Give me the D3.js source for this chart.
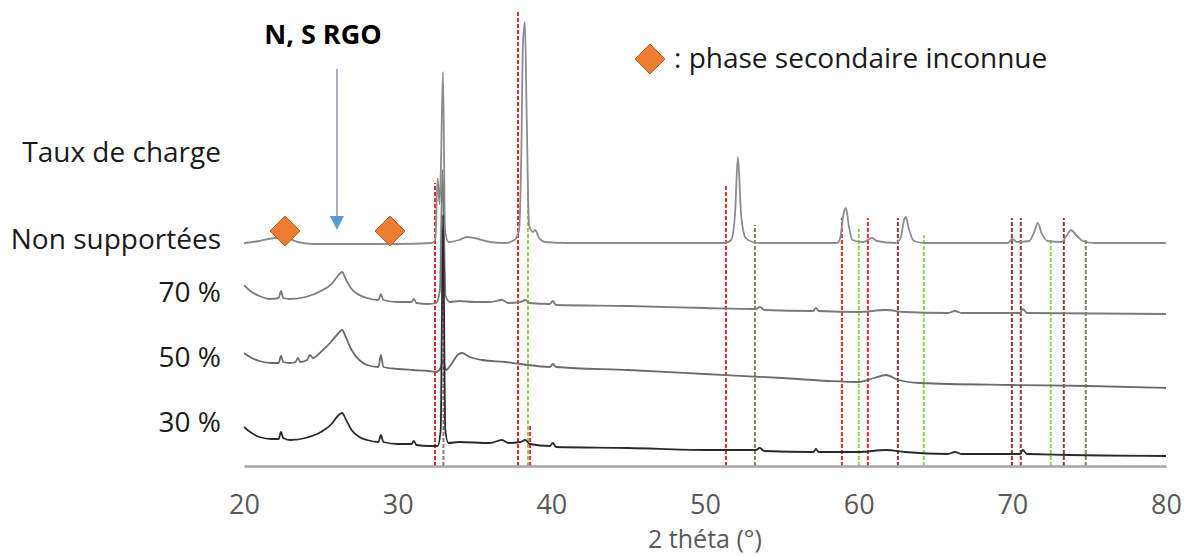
<!DOCTYPE html>
<html><head><meta charset="utf-8">
<script src="https://cdn.jsdelivr.net/npm/d3@7"></script>
<style>
html,body{margin:0;padding:0;background:#fff;}
svg{display:block;font-family:"Open Sans","Noto Sans",sans-serif;}
</style></head>
<body><svg id="chart" width="1192" height="556"></svg>
<script>
// ---- DATA (2θ in degrees, intensity in arbitrary units incl. vertical offset) ----
const xTicks = [20, 30, 40, 50, 60, 70, 80];
const seriesNames = ["Non supportées", "70 %", "50 %", "30 %"];
const nonSupportees = [[20.0,223],[21.0,225],[22.0,228],[22.7,228],[23.5,224],[24.5,222],[30,222],[32.2,223],[32.45,226],[32.6,288],[32.72,262],[32.8,290],[32.95,394],[33.08,236],[33.3,224],[34.0,226],[34.5,229],[35.0,228],[36.0,224],[37.0,223],[37.6,226],[37.9,236],[38.05,316],[38.15,421],[38.28,444],[38.4,346],[38.55,241],[38.8,234],[38.95,236],[39.2,228],[39.6,224],[41,223],[51.3,223],[51.7,226],[51.95,251],[52.14,309],[52.35,251],[52.65,228],[53.1,224],[53.6,223],[58.6,223],[58.8,228],[59.0,251],[59.17,258],[59.35,241],[59.6,226],[60.3,224],[60.86,228],[61.2,225],[62.4,223],[62.75,229],[62.92,244],[63.07,249],[63.25,238],[63.6,225],[64.3,223],[69.7,223],[70.0,227],[70.3,224],[71.1,225],[71.4,233],[71.66,243],[71.9,233],[72.3,225],[73.2,224],[73.6,232],[73.81,236],[74.15,231],[74.6,225],[75.3,223],[80,223]];
const taux70 = [[20.0,181],[20.5,174],[21.0,170],[21.7,167],[22.25,168],[22.41,175],[22.55,168],[23.0,167],[24.0,169],[25.0,175],[25.7,182],[26.1,190],[26.38,194],[26.65,186],[27.0,177],[27.5,171],[28.0,168],[28.75,166],[28.91,172],[29.07,166],[30.0,164],[30.9,164],[31.06,167],[31.22,163],[32.0,162],[32.5,163],[32.75,176],[32.92,296],[33.12,170],[33.4,164],[34.0,165],[35.0,164],[36.0,164],[36.79,166],[37.2,163],[38.0,164],[38.3,166],[38.6,163],[39.9,162],[40.1,165],[40.3,161],[45,160],[50,158],[53.3,157],[53.57,159],[53.85,156],[57.05,155],[57.22,158],[57.4,155],[60,154],[61.77,156],[63,154],[65.8,153],[66.26,155],[66.7,153],[70.5,153],[70.68,157],[70.95,153],[80,152]];
const taux50 = [[20.0,113],[20.5,108],[21.0,105],[21.8,103],[22.25,103],[22.41,110],[22.55,104],[23.0,103],[23.35,104],[23.51,108],[23.67,104],[24.1,106],[24.29,111],[24.5,108],[25.0,114],[25.6,123],[26.1,132],[26.38,136],[26.65,128],[27.0,116],[27.5,106],[28.0,101],[28.75,99],[28.91,111],[29.07,99],[30.0,97],[31.0,96],[32.0,95],[32.5,94],[32.8,98],[32.95,106],[33.15,96],[33.5,102],[33.9,111],[34.18,113],[34.7,109],[35.5,106],[37.0,104],[38.0,102],[39.9,99],[40.1,102],[40.3,99],[45,96],[50,92],[55,88],[58,85],[60.0,84],[61.0,88],[61.77,91],[62.6,86],[64,83],[70,81],[75,80],[80,78]];
const taux30 = [[20.0,39],[20.5,33],[21.0,29],[21.8,27],[22.25,27],[22.41,34],[22.55,28],[23.0,26],[24.0,28],[25.0,34],[25.7,42],[26.1,50],[26.38,53],[26.65,46],[27.0,36],[27.5,29],[28.0,26],[28.75,24],[28.91,31],[29.07,24],[30.0,22],[30.9,22],[31.06,25],[31.22,21],[32.0,20],[32.6,20],[32.8,36],[32.95,251],[33.1,36],[33.3,23],[34.0,24],[36.0,23],[36.79,26],[37.2,23],[38.0,24],[38.3,26],[38.6,22],[39.9,20],[40.1,23],[40.3,19],[45,18],[50,16],[53.3,16],[53.57,18],[53.85,15],[57.05,14],[57.22,17],[57.4,14],[60,14],[61.77,16],[63,14],[65.8,12],[66.26,14],[66.7,12],[70.5,12],[70.68,16],[70.95,12],[80,10]];
// reference reflections: [2θ, top intensity]
const refRed   = [[32.43,283],[37.83,454],[51.36,281],[58.91,248],[60.60,248],[38.62,41]];
const refBrown = [[62.55,248],[69.97,248],[70.55,248],[73.35,248]];
const refGreen = [[38.48,276],[60.01,237],[64.24,231],[72.50,227]];
const refOlive = [[32.98,226],[53.25,241],[74.78,226]];
const unknownPhase = [[22.67,235],[29.50,235]];
const rgoArrow = [26.05, 397, 236];

// ---- SCALES ----
const svg = d3.select("#chart");
const x = d3.scaleLinear().domain([20, 80]).range([244, 1166]);
const y = d3.scaleLinear().domain([0, 450]).range([466, 16]);

// reference lines
const refGroups = [
  {d: refOlive, c: "#7b8463"},
  {d: refGreen, c: "#92d050"},
  {d: refBrown, c: "#943634"},
  {d: refRed,   c: "#e8282b"}
];
refGroups.forEach(g => {
  svg.append("g").selectAll("line").data(g.d).join("line")
    .attr("x1", d => x(d[0])).attr("x2", d => x(d[0]))
    .attr("y1", y(0)).attr("y2", d => y(d[1]))
    .attr("stroke", g.c).attr("stroke-width", 2)
    .attr("stroke-dasharray", "4,2");
});

// traces
const line = d3.line().x(d => x(d[0])).y(d => y(d[1])).curve(d3.curveMonotoneX);
const traces = [
  {d: nonSupportees, c: "#8c8c8c"},
  {d: taux70, c: "#7a7a7a"},
  {d: taux50, c: "#6a6a6a"},
  {d: taux30, c: "#2a2a2a"}
];
traces.forEach(t => {
  svg.append("path").datum(t.d).attr("d", line)
    .attr("fill", "none").attr("stroke", t.c).attr("stroke-width", 1.8)
    .attr("stroke-linejoin", "round");
});

// axis
const ax = svg.append("g").attr("transform", `translate(0,${y(0)})`)
  .call(d3.axisBottom(x).tickValues(xTicks).tickSize(0).tickPadding(29));
ax.select(".domain").attr("stroke", "#a6a6a6").attr("stroke-width", 2.5);
ax.selectAll("text").attr("fill", "#595959").attr("font-size", 27)
  .attr("font-family", "'Open Sans', sans-serif");
svg.append("text").attr("x", 705).attr("y", 548).attr("text-anchor", "middle")
  .attr("fill", "#595959").attr("font-size", 25).text("2 théta (°)");

// series labels
const labelY = [249, 302, 367, 432];
svg.append("text").attr("x", 221).attr("y", 162).attr("text-anchor", "end")
  .attr("fill", "#1a1a1a").attr("font-size", 28).text("Taux de charge");
svg.selectAll("text.lab").data(seriesNames).join("text").attr("class", "lab")
  .attr("x", 221).attr("y", (d, i) => labelY[i]).attr("text-anchor", "end")
  .attr("fill", "#1a1a1a").attr("font-size", 28).text(d => d);

// N,S RGO annotation
svg.append("text").attr("x", 323).attr("y", 44).attr("text-anchor", "middle")
  .attr("font-weight", "bold").attr("font-size", 27).attr("fill", "#000").text("N, S RGO");
svg.append("line").attr("x1", x(rgoArrow[0])).attr("x2", x(rgoArrow[0]))
  .attr("y1", y(rgoArrow[1])).attr("y2", y(rgoArrow[2]) - 12)
  .attr("stroke", "#8c9bb0").attr("stroke-width", 1.5);
svg.append("path")
  .attr("d", `M${x(rgoArrow[0]) - 7},${y(rgoArrow[2]) - 14}L${x(rgoArrow[0]) + 7},${y(rgoArrow[2]) - 14}L${x(rgoArrow[0])},${y(rgoArrow[2])}Z`)
  .attr("fill", "#5b9bd5");

// unknown phase diamonds
const diamond = (cx, cy, r) => `M${cx},${cy - r}L${cx + r},${cy}L${cx},${cy + r}L${cx - r},${cy}Z`;
svg.selectAll("path.dia").data(unknownPhase).join("path").attr("class", "dia")
  .attr("d", d => diamond(x(d[0]), y(d[1]), 15))
  .attr("fill", "#ed7d31").attr("stroke", "#b4622a").attr("stroke-width", 1);

// legend
svg.append("path").attr("d", diamond(650, 59, 15))
  .attr("fill", "#ed7d31").attr("stroke", "#b4622a").attr("stroke-width", 1);
svg.append("text").attr("x", 674).attr("y", 68).attr("font-size", 28)
  .attr("fill", "#1a1a1a").text(": phase secondaire inconnue");
</script></body></html>
